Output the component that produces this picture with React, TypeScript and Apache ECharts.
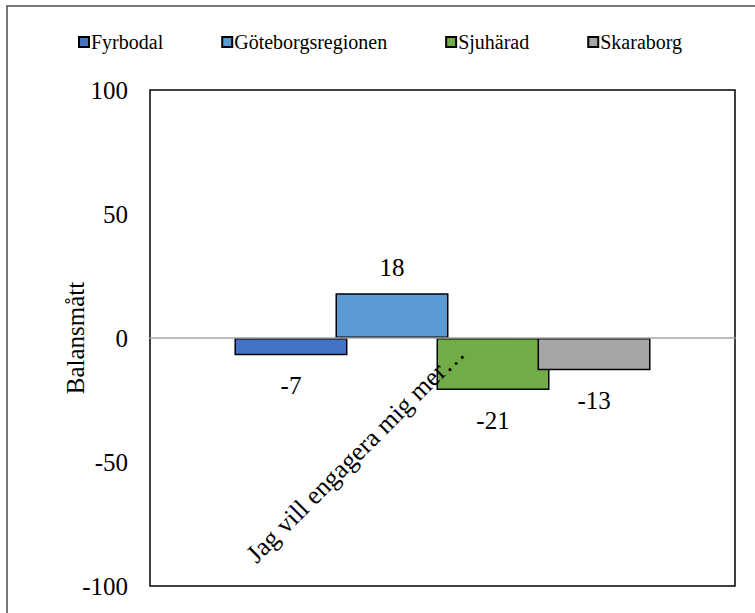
import React, { useEffect, useRef } from "react";
import * as echarts from "echarts";

const categories = ["Jag vill engagera mig mer…"];
const seriesNames = ["Fyrbodal", "Göteborgsregionen", "Sjuhärad", "Skaraborg"];
const seriesValues = [-7, 18, -21, -13];
const seriesColors = ["#4472C4", "#5B9BD5", "#70AD47", "#A5A5A5"];
const yMin = -100;
const yMax = 100;
const yInterval = 50;
const yAxisTitle = "Balansmått";

const FONT = "Liberation Serif";

export default function App() {
  const ref = useRef<HTMLDivElement>(null);

  useEffect(() => {
    if (!ref.current) return;
    const chart = echarts.init(ref.current, null, { renderer: "svg" });
    const series = seriesNames.map((name, i) => ({
      name,
      type: "bar",
      barWidth: 113,
      barGap: "-10.6%",
      itemStyle: { color: seriesColors[i], borderColor: "#000", borderWidth: 1.5 },
      label: {
        show: true,
        color: "#000",
        fontSize: 25,
        fontFamily: FONT,
      },
      data: [
        {
          value: seriesValues[i],
          label: {
            position: seriesValues[i] >= 0 ? "top" : "bottom",
            distance: seriesValues[i] >= 0 ? 13 : 18,
          },
        },
      ],
    }));
    chart.setOption({
      animation: false,
      textStyle: { fontFamily: FONT },
      legend: {
        data: seriesNames,
        top: 27,
        left: 73,
        itemWidth: 10,
        itemHeight: 10,
        itemGap: 58,
        icon: "rect",
        textStyle: { fontSize: 20, fontFamily: FONT, color: "#000", padding: [0, 0, 0, -3] },
      },
      grid: {
        left: 150,
        top: 90,
        right: 20,
        bottom: 27,
        show: true,
        borderColor: "#000",
        borderWidth: 1.5,
        backgroundColor: "transparent",
      },
      xAxis: {
        type: "category",
        data: categories,
        z: 5,
        axisLine: { show: true, onZero: true, lineStyle: { color: "#a6a6a6", width: 1.5 } },
        axisTick: { show: false },
        axisLabel: { show: false },
        splitLine: { show: false },
      },
      yAxis: {
        type: "value",
        min: yMin,
        max: yMax,
        interval: yInterval,
        name: yAxisTitle,
        nameLocation: "middle",
        nameGap: 62,
        nameMoveOverlap: false,
        nameTextStyle: { fontSize: 25, fontFamily: FONT, color: "#000" },
        axisLine: { show: false },
        axisTick: { show: false },
        splitLine: { show: false },
        axisLabel: { fontSize: 25, fontFamily: FONT, color: "#000", margin: 22 },
      },
      series,
    });
    const px = chart.convertToPixel({ xAxisIndex: 0 }, categories[0]) as number;
    const py = chart.convertToPixel({ yAxisIndex: 0 }, 0) as number;
    chart.setOption({
      graphic: [
        {
          type: "rect",
          z: 0,
          silent: true,
          shape: { x: 7, y: 6, width: 800, height: 700 },
          style: { fill: "none", stroke: "#4d4d4d", lineWidth: 1.5 },
        },
        {
          type: "text",
          z: 10,
          x: px + 17.5,
          y: py + 11,
          rotation: Math.PI / 4,
          style: {
            text: categories[0],
            fontSize: 26,
            fontFamily: FONT,
            fill: "#000",
            align: "right",
            verticalAlign: "middle",
          },
        },
      ],
    });
    return () => chart.dispose();
  }, []);

  return (
    <div
      ref={ref}
      style={{ position: "fixed", left: 0, top: 0, width: 755, height: 613, background: "#fff" }}
    />
  );
}
